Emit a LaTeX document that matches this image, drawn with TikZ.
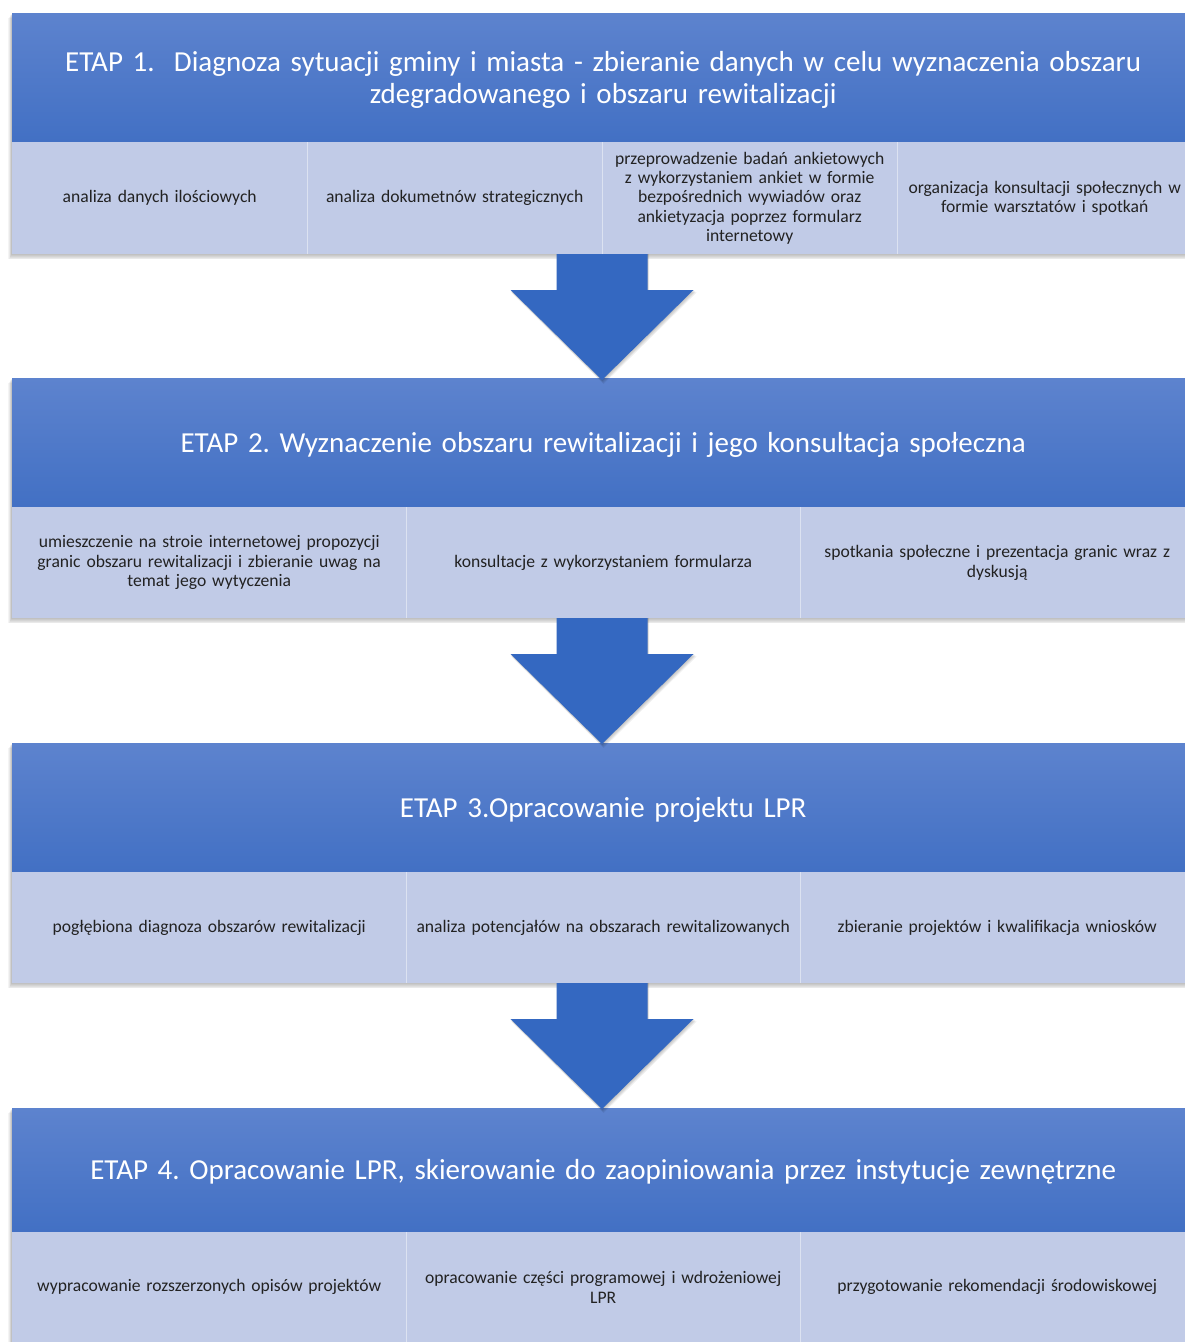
\documentclass[tikz,border=0pt]{standalone}
\usepackage{fontspec}
\setmainfont{Carlito}
\newfontfamily\subfont{Carlito}[WordSpace=0.5]
\usetikzlibrary{calc}
\frenchspacing
\definecolor{hdtop}{RGB}{93,131,206}
\definecolor{hdbot}{RGB}{66,112,196}
\definecolor{subfill}{RGB}{193,203,231}
\definecolor{arrowc}{RGB}{52,104,193}
\definecolor{subtext}{RGB}{34,34,34}
\tikzset{
  header/.style={shading=axis, top color=hdtop, bottom color=hdbot, draw=none,
    minimum width=1182pt, anchor=north west, inner sep=0pt},
  hdtext/.style={text=white, font=\fontsize{29}{32}\selectfont, align=center,
    text width=1178pt, inner sep=0pt},
  subcell/.style={fill=subfill, draw=none, text=subtext,
    font=\subfont\fontsize{17.6}{19.4}\selectfont, align=center, anchor=north west, inner sep=0pt},
  fourcol/.style={subcell, minimum width=295pt, text width=292pt},
  threecol/.style={subcell, minimum width=394pt, text width=390pt},
  divider/.style={draw=white, opacity=0.45, line width=0.8pt},
  blockarrow/.style={fill=arrowc, draw=none},
  pics/downarr/.style={code={
    \foreach \i in {1,...,4}
      \fill[black, opacity=0.06] (-45.5+\i*0.4,0) -- (45.5+\i*0.4,0) -- (45.5+\i*0.4,36+\i*0.6) -- (91.5+\i*0.8,36+\i*0.6)
        -- (0+\i*0.4,126+\i*1.0) -- (-91.5+\i*0.2,36+\i*0.6) -- (-45.5+\i*0.4,36+\i*0.6) -- cycle;
    \fill[blockarrow] (-45.5,0) -- (45.5,0) -- (45.5,36) -- (91.5,36) -- (0,126)
      -- (-91.5,36) -- (-45.5,36) -- cycle;
  }}
}
\newcommand{\stageshadow}[2]{%
  \foreach \i in {1,...,6}
    \fill[black, opacity=0.045] (12-\i*0.6, #1+\i*0.8) rectangle (1196+\i*0.6, #2+\i*0.9);
}
\begin{document}
\begin{tikzpicture}[x=1pt,y=-1pt]
\useasboundingbox (0,0) rectangle (1185,1342);
\clip (0,0) rectangle (1185,1342);
\fill[white] (0,0) rectangle (1185,1342);

% shadows
\stageshadow{13}{254}
\stageshadow{378}{618}
\stageshadow{743}{983}
\stageshadow{1108}{1345}

% ---------------- Stage 1
\node[header, minimum height=129pt] (h1) at (12,13) {};
\node[hdtext] (t1) at ([yshift=-2pt]h1.center)
  {ETAP 1.\ \ Diagnoza sytuacji gminy i miasta - zbieranie danych w celu wyznaczenia obszaru\\ zdegradowanego i obszaru rewitalizacji};
\node[fourcol, minimum height=112pt] (s11) at (12,142) {analiza danych ilościowych};
\node[fourcol, minimum height=112pt] (s12) at (307,142) {analiza dokumetnów strategicznych};
\node[fourcol, minimum height=112pt] (s13) at (602,142)
  {przeprowadzenie badań ankietowych\\ z wykorzystaniem ankiet w formie\\ bezpośrednich wywiadów oraz\\ ankietyzacja poprzez formularz\\ internetowy};
\node[fourcol, minimum height=112pt] (s14) at (897,142)
  {organizacja konsultacji społecznych w\\ formie warsztatów i spotkań};
\draw[divider] (s11.north east) -- (s11.south east);
\draw[divider] (s12.north east) -- (s12.south east);
\draw[divider] (s13.north east) -- (s13.south east);

% ---------------- Stage 2
\node[header, minimum height=129pt] (h2) at (12,378) {};
\node[hdtext] (t2) at ([yshift=-2pt]h2.center)
  {ETAP 2. Wyznaczenie obszaru rewitalizacji i jego konsultacja społeczna};
\node[threecol, minimum height=111pt] (s21) at (12,507)
  {umieszczenie na stroie internetowej propozycji\\ granic obszaru rewitalizacji i zbieranie uwag na\\ temat jego wytyczenia};
\node[threecol, minimum height=111pt] (s22) at (406,507) {konsultacje z wykorzystaniem formularza};
\node[threecol, minimum height=111pt] (s23) at (800,507)
  {spotkania społeczne i prezentacja granic wraz z\\ dyskusją};
\draw[divider] (s21.north east) -- (s21.south east);
\draw[divider] (s22.north east) -- (s22.south east);

% ---------------- Stage 3
\node[header, minimum height=129pt] (h3) at (12,743) {};
\node[hdtext] (t3) at ([yshift=-2pt]h3.center) {ETAP 3.Opracowanie projektu LPR};
\node[threecol, minimum height=111pt] (s31) at (12,872) {pogłębiona diagnoza obszarów rewitalizacji};
\node[threecol, minimum height=111pt] (s32) at (406,872) {analiza potencjałów na obszarach rewitalizowanych};
\node[threecol, minimum height=111pt] (s33) at (800,872) {zbieranie projektów i kwalifikacja wniosków};
\draw[divider] (s31.north east) -- (s31.south east);
\draw[divider] (s32.north east) -- (s32.south east);

% ---------------- Stage 4
\node[header, minimum height=124pt] (h4) at (12,1108) {};
\node[hdtext] (t4) at ([yshift=-2pt]h4.center)
  {ETAP 4. Opracowanie LPR, skierowanie do zaopiniowania przez instytucje zewnętrzne};
\node[threecol, minimum height=110pt] (s41) at (12,1232) {wypracowanie rozszerzonych opisów projektów};
\node[threecol, minimum height=110pt] (s42) at (406,1232)
  {opracowanie części programowej i wdrożeniowej\\ LPR};
\node[threecol, minimum height=110pt] (s43) at (800,1232) {przygotowanie rekomendacji środowiskowej};
\draw[divider] (s41.north east) -- (s41.south east);
\draw[divider] (s42.north east) -- (s42.south east);

% ---------------- arrows
\pic at (602,254) {downarr};
\pic at (602,618) {downarr};
\pic at (602,983) {downarr};
\end{tikzpicture}
\end{document}
